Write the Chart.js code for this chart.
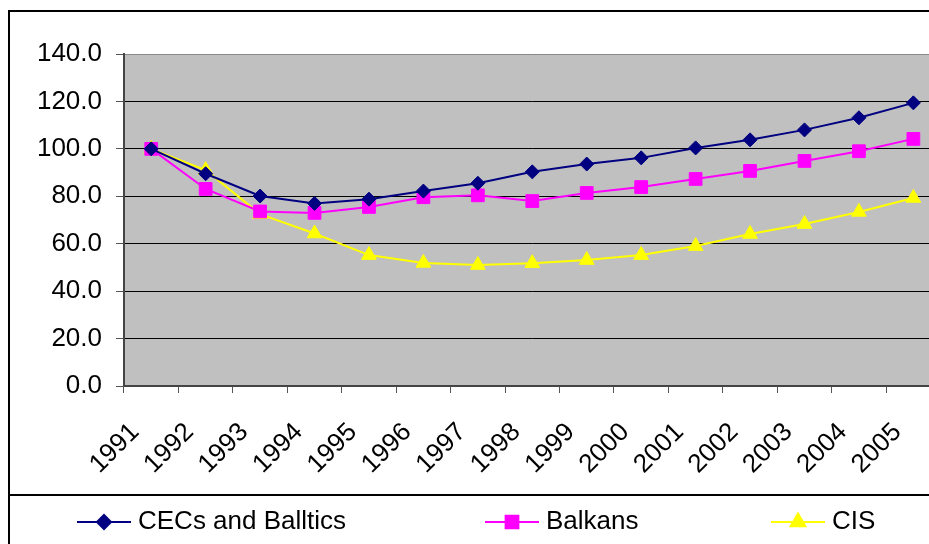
<!DOCTYPE html>
<html>
<head>
<meta charset="utf-8">
<script src="https://cdn.jsdelivr.net/npm/chart.js@4/dist/chart.umd.min.js"></script>
<style>
  html, body { margin: 0; padding: 0; background: #fff; overflow: hidden; }
  #wrap { position: relative; width: 929px; height: 544px; overflow: hidden; }
  #myChart { position: absolute; left: 0; top: 0; }
  .frame { position: absolute; left: 8px; top: 10px; width: 1000px; height: 600px;
           border-left: 2px solid #000; border-top: 2px solid #000; }
  .divider { position: absolute; left: 8px; top: 494px; width: 1000px; border-top: 2px solid #000; }
</style>
</head>
<body>
<div id="wrap">
  <div class="frame"></div>
  <div class="divider"></div>
  <canvas id="myChart" width="960" height="544"></canvas>
</div>
<script>
// Datos
const years = ['1991', '1992', '1993', '1994', '1995', '1996', '1997', '1998', '1999', '2000', '2001', '2002', '2003', '2004', '2005']
const cecs = [100, 89.5, 80.1, 77.0, 78.8, 82.2, 85.5, 90.3, 93.6, 96.2, 100.4, 103.8, 108.0, 113.1, 119.4]
const balkans = [100, 83.1, 73.6, 73.0, 75.5, 79.6, 80.4, 78.0, 81.4, 83.9, 87.3, 90.7, 94.9, 99.0, 104.2]
const cis = [100, 91.0, 72.5, 64.3, 55.2, 51.9, 51.0, 51.8, 53.1, 55.2, 59.0, 64.1, 68.3, 73.4, 79.3]
const seriesNames = ['CECs and Balltics', 'Balkans', 'CIS']
const yTicks = [0, 20, 40, 60, 80, 100, 120, 140]

const ctx = document.getElementById('myChart')
const FONT = "'Liberation Sans', Arial, sans-serif"
const FSIZE = 26

// Fondo gris del area del grafico
const plotBackground = {
    id: 'plotBackground',
    beforeDraw: chart => {
        const { ctx, chartArea: a } = chart
        ctx.save()
        ctx.fillStyle = '#c0c0c0'
        ctx.fillRect(a.left, a.top, a.right - a.left, a.bottom - a.top)
        ctx.restore()
    }
}

// Leyenda dibujada a mano: linea + marcador + texto
const legendBox = {
    id: 'legendBox',
    afterDraw: chart => {
        const c = chart.ctx
        const xs = [77, 485, 771]
        const y = 522
        chart.data.datasets.forEach((ds, i) => {
            const x = xs[i]
            c.save()
            c.strokeStyle = ds.borderColor
            c.lineWidth = 2
            c.beginPath()
            c.moveTo(x, y)
            c.lineTo(x + 54, y)
            c.stroke()
            c.fillStyle = ds.pointBackgroundColor
            c.strokeStyle = ds.pointBorderColor
            Chart.helpers.drawPoint(c, { pointStyle: ds.pointStyle, radius: ds.pointRadius, borderWidth: 1 }, x + 27, y)
            c.fillStyle = '#000'
            c.font = FSIZE + 'px ' + FONT
            c.textBaseline = 'middle'
            c.textAlign = 'left'
            c.fillText(ds.label, x + 61, y)
            c.restore()
        })
    }
}

const mkSet = (label, data, color, style, radius) => ({
    label, data,
    borderColor: color,
    backgroundColor: color,
    pointBackgroundColor: color,
    pointBorderColor: color,
    pointStyle: style,
    pointRadius: radius,
    pointBorderWidth: 1,
    borderWidth: 2,
    tension: 0
})

new Chart(ctx, {
    type: 'line',
    data: {
        labels: years,
        datasets: [
            mkSet(seriesNames[0], cecs, '#000080', 'rectRot', 7),
            mkSet(seriesNames[1], balkans, '#ff00ff', 'rect', 9),
            mkSet(seriesNames[2], cis, '#ffff00', 'triangle', 8.5)
        ]
    },
    options: {
        responsive: false,
        animation: false,
        devicePixelRatio: 1,
        layout: { padding: { left: 0, top: 54, right: 17, bottom: 0 } },
        plugins: { legend: { display: false }, tooltip: { enabled: false } },
        scales: {
            x: {
                offset: true,
                afterFit: s => { s.height = 158 },
                grid: { display: true, drawOnChartArea: false, drawTicks: true, tickLength: 7, offset: true, tickColor: '#555' },
                border: { display: true, color: '#444', width: 2 },
                ticks: {
                    autoSkip: false, minRotation: 45, maxRotation: 45,
                    padding: 24, labelOffset: -16,
                    color: '#000', font: { family: FONT, size: FSIZE }
                }
            },
            y: {
                min: yTicks[0], max: yTicks[yTicks.length - 1],
                afterFit: s => { s.width = 124 },
                afterBuildTicks: s => { s.ticks = yTicks.map(v => ({ value: v })) },
                grid: {
                    color: c => c.tick && c.tick.value === 140 ? '#888' : '#000',
                    lineWidth: 1, tickLength: 8, tickColor: '#555'
                },
                border: { display: true, color: '#444', width: 2 },
                ticks: {
                    padding: 14, color: '#000', font: { family: FONT, size: FSIZE },
                    callback: v => Number(v).toFixed(1)
                }
            }
        }
    },
    plugins: [plotBackground, legendBox]
})
</script>
</body>
</html>
